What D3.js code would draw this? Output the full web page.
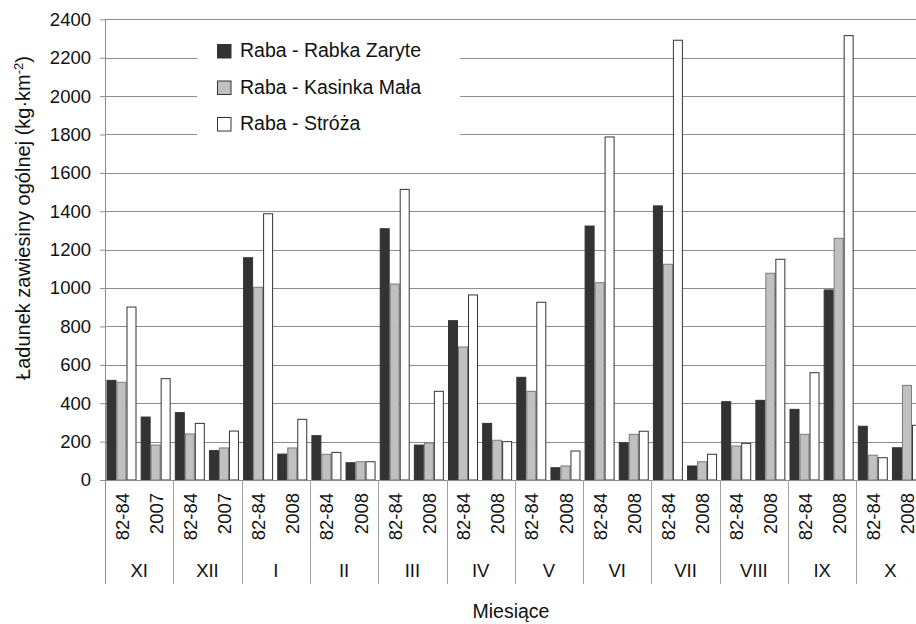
<!DOCTYPE html>
<html>
<head>
<meta charset="utf-8">
<script src="https://cdn.jsdelivr.net/npm/d3@7"></script>
<style>
  body { margin: 0; background: #fff; }
  svg { display: block; overflow: hidden; }
  text { font-family: "Liberation Sans", Arial, sans-serif; fill: #111; }
</style>
</head>
<body>
<div id="chart"></div>
<script>
// months (hydrological year order) and the two periods in each
var months = ["XI", "XII", "I", "II", "III", "IV", "V", "VI", "VII", "VIII", "IX", "X"];
var periods = ["82-84", "2007", "82-84", "2007", "82-84", "2008", "82-84", "2008",
  "82-84", "2008", "82-84", "2008", "82-84", "2008", "82-84", "2008",
  "82-84", "2008", "82-84", "2008", "82-84", "2008", "82-84", "2008"];

// suspended load, kg/km2
var rabka   = [519, 328, 351, 153, 1158, 135, 231, 90, 1309, 182, 830, 295,
               535, 64, 1323, 194, 1428, 73, 408, 415, 368, 990, 280, 168];
var kasinka = [509, 182, 240, 167, 1004, 167, 134, 95, 1021, 193, 693, 207,
               462, 73, 1028, 238, 1124, 95, 177, 1077, 238, 1259, 129, 493];
var stroza  = [901, 528, 295, 255, 1387, 316, 144, 95, 1514, 462, 964, 200,
               926, 151, 1787, 254, 2291, 134, 191, 1150, 559, 2315, 116, 285];

var seriesNames = ["Raba - Rabka Zaryte", "Raba - Kasinka Mała", "Raba - Stróża"];
var yTicks = [0, 200, 400, 600, 800, 1000, 1200, 1400, 1600, 1800, 2000, 2200, 2400];

var fills = ["#333333", "#c0c0c0", "#ffffff"];
var strokes = ["#333333", "#7a7a7a", "#333333"];
var series = [rabka, kasinka, stroza];

var w = 916, h = 624;
var plotLeft = 105, plotTop = 19.3, plotBottom = 480;
var step = 34.15;

var svg = d3.select("#chart").append("svg")
    .attr("width", w)
    .attr("height", h);

var x = d3.scaleBand()
    .domain(d3.range(periods.length))
    .range([plotLeft, plotLeft + step * periods.length]);
var x1 = d3.scaleBand()
    .domain([0, 1, 2])
    .range([1.5, x.bandwidth() - 2.65]);
var y = d3.scaleLinear()
    .domain([0, 2400])
    .range([plotBottom, plotTop]);

// gridlines + y axis
var yAxis = d3.axisLeft(y)
    .tickValues(yTicks)
    .tickSize(5)
    .tickFormat(d3.format("d"));
var ya = svg.append("g")
    .attr("transform", "translate(" + plotLeft + ",0)")
    .call(yAxis);
ya.select(".domain").remove();
ya.selectAll(".tick line").attr("stroke", "#8c8c8c");
ya.selectAll(".tick text")
    .attr("x", -14)
    .style("font-size", "18.5px")
    .style("font-family", "Liberation Sans, Arial, sans-serif")
    .attr("fill", "#111");

svg.append("g").selectAll("line")
    .data(yTicks)
  .enter().append("line")
    .attr("x1", plotLeft)
    .attr("x2", w)
    .attr("y1", function(d) { return Math.round(y(d)) + 0.5; })
    .attr("y2", function(d) { return Math.round(y(d)) + 0.5; })
    .attr("stroke", "#8c8c8c");

// legend box hides gridlines behind it
svg.append("rect")
    .attr("x", 197)
    .attr("y", 32)
    .attr("width", 263)
    .attr("height", 118)
    .attr("fill", "#fff");

// bars
var groups = svg.append("g").selectAll("g")
    .data(periods)
  .enter().append("g")
    .attr("transform", function(d, i) { return "translate(" + x(i) + ",0)"; });

groups.selectAll("rect")
    .data(function(d, i) { return series.map(function(s, k) { return {k: k, v: s[i]}; }); })
  .enter().append("rect")
    .attr("x", function(d) { return x1(d.k) + 0.5; })
    .attr("width", x1.bandwidth() - 1)
    .attr("y", function(d) { return y(d.v); })
    .attr("height", function(d) { return plotBottom - y(d.v); })
    .attr("fill", function(d) { return fills[d.k]; })
    .attr("stroke", function(d) { return strokes[d.k]; })
    .attr("stroke-width", 1);

// axes lines
svg.append("line")
    .attr("x1", plotLeft + 0.5).attr("x2", plotLeft + 0.5)
    .attr("y1", plotTop).attr("y2", 584)
    .attr("stroke", "#8c8c8c");
svg.append("line")
    .attr("x1", plotLeft).attr("x2", w)
    .attr("y1", plotBottom + 0.5).attr("y2", plotBottom + 0.5)
    .attr("stroke", "#8c8c8c");

// month separators (right edge of each month, last one falls off the page)
svg.append("g").selectAll("line")
    .data(months.slice(0, -1))
  .enter().append("line")
    .attr("x1", function(d, i) { return Math.round(x(2 * i + 2)) + 0.5; })
    .attr("x2", function(d, i) { return Math.round(x(2 * i + 2)) + 0.5; })
    .attr("y1", plotBottom)
    .attr("y2", 584)
    .attr("stroke", "#a0a0a0");

// period labels
svg.append("g").selectAll("text")
    .data(periods)
  .enter().append("text")
    .attr("transform", function(d, i) {
      return "translate(" + (x(i) + x.bandwidth() / 2 + 6.5) + ",493) rotate(-90)";
    })
    .attr("text-anchor", "end")
    .style("font-size", "18.5px")
    .text(function(d) { return d; });

// month labels
svg.append("g").selectAll("text")
    .data(months)
  .enter().append("text")
    .attr("x", function(d, i) { return x(2 * i) + step; })
    .attr("y", 577)
    .attr("text-anchor", "middle")
    .style("font-size", "18.5px")
    .text(function(d) { return d; });

// axis titles
svg.append("text")
    .attr("x", 511)
    .attr("y", 618)
    .attr("text-anchor", "middle")
    .style("font-size", "19.5px")
    .text("Miesiące");

var yt = svg.append("text")
    .attr("transform", "translate(30,218) rotate(-90)")
    .attr("text-anchor", "middle")
    .style("font-size", "20px");
yt.append("tspan").text("Ładunek zawiesiny ogólnej (kg·km");
yt.append("tspan").attr("dy", -7).style("font-size", "13px").text("-2");
yt.append("tspan").attr("dy", 7).text(")");

// legend
var legend = svg.append("g").selectAll("g")
    .data(seriesNames)
  .enter().append("g")
    .attr("transform", function(d, i) { return "translate(217," + (44 + i * 36.5) + ")"; });
legend.append("rect")
    .attr("x", 0.5).attr("y", 0.5)
    .attr("width", 13.5).attr("height", 13.5)
    .attr("fill", function(d, i) { return fills[i]; })
    .attr("stroke", function(d, i) { return i == 0 ? fills[0] : "#333"; });
legend.append("text")
    .attr("x", 23)
    .attr("y", 13)
    .style("font-size", "19.5px")
    .text(function(d) { return d; });
</script>
</body>
</html>
